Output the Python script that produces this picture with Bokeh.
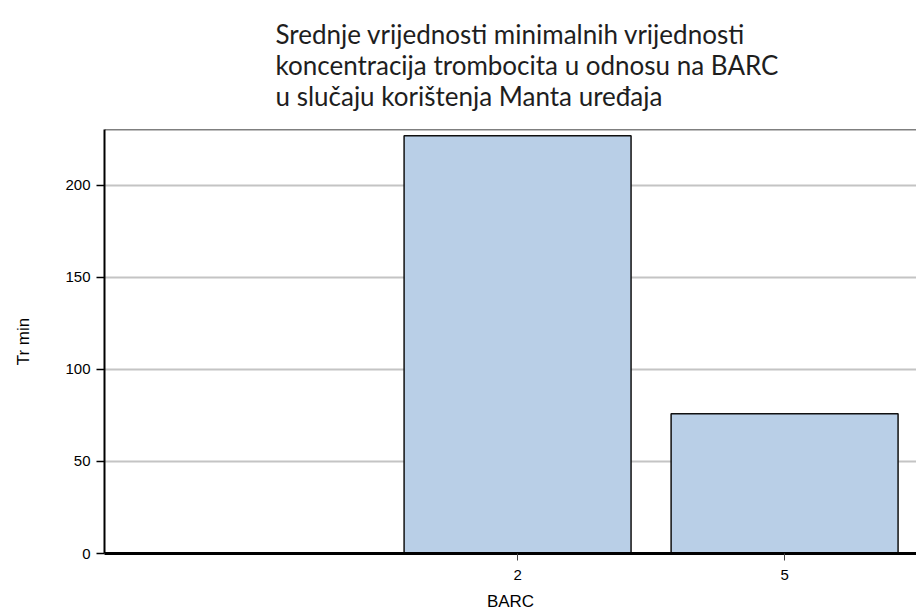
from bokeh.plotting import figure
from bokeh.models import Range1d, FixedTicker, Span, Title
from bokeh.embed import file_html
from bokeh.resources import INLINE

barc = ["2", "5"]
tr_min = [227, 76]
y_ticks = [0, 50, 100, 150, 200]
title_lines = [
    "Srednje vrijednosti minimalnih vrijednosti",
    "koncentracija trombocita u odnosu na BARC",
    "u slučaju korištenja Manta uređaja",
]

positions = [i + 1 for i in range(len(barc))]
y_top = 230.4

p = figure(width=916, height=613, output_backend="svg", toolbar_location=None,
           x_range=Range1d(-0.547, 2.494), y_range=Range1d(0, y_top),
           min_border_left=104, min_border_right=0, min_border_top=129,
           min_border_bottom=60)
p.outline_line_color = None
p.background_fill_color = "white"
p.border_fill_color = "white"

p.vbar(x=positions, top=tr_min, bottom=0, width=0.85,
       fill_color="#b9cfe7", line_color="#111111", line_width=1.5)

p.xgrid.grid_line_color = None
p.ygrid.grid_line_color = "#c4c4c4"
p.ygrid.grid_line_width = 2
p.ygrid.ticker = FixedTicker(ticks=y_ticks)

p.yaxis.ticker = FixedTicker(ticks=y_ticks)
p.yaxis.axis_line_width = 2
p.yaxis.axis_line_color = "black"
p.yaxis.major_tick_out = 8
p.yaxis.major_tick_in = 0
p.yaxis.major_tick_line_width = 1.5
p.yaxis.minor_tick_line_color = None
p.yaxis.major_label_text_font = "Liberation Sans"
p.yaxis.major_label_text_font_size = "15px"
p.yaxis.major_label_text_color = "black"
p.yaxis.major_label_standoff = 6
p.yaxis.axis_label = "Tr min"
p.yaxis.axis_label_text_font = "Liberation Sans"
p.yaxis.axis_label_text_font_size = "17px"
p.yaxis.axis_label_text_font_style = "normal"
p.yaxis.axis_label_text_color = "black"
p.yaxis.axis_label_standoff = 29

p.xaxis.ticker = FixedTicker(ticks=positions)
p.xaxis.major_label_overrides = {pos: lab for pos, lab in zip(positions, barc)}
p.xaxis.axis_line_width = 3
p.xaxis.axis_line_color = "black"
p.xaxis.major_tick_out = 7
p.xaxis.major_tick_in = 0
p.xaxis.major_tick_line_color = "#444444"
p.xaxis.minor_tick_line_color = None
p.xaxis.major_label_text_font = "Liberation Sans"
p.xaxis.major_label_text_font_size = "15px"
p.xaxis.major_label_text_color = "black"
p.xaxis.major_label_standoff = 9
p.xaxis.axis_label = "BARC"
p.xaxis.axis_label_text_font = "Liberation Sans"
p.xaxis.axis_label_text_font_size = "17px"
p.xaxis.axis_label_text_font_style = "normal"
p.xaxis.axis_label_text_color = "black"
p.xaxis.axis_label_standoff = 9

p.add_layout(Span(location=y_top, dimension="width", line_color="black", line_width=1.5))

p.add_layout(Title(text="\n".join(title_lines), align="left", offset=171,
                   text_font="Lato", text_font_size="26px", text_line_height=0.97,
                   text_font_style="normal", text_color="#1e1e1e",
                   vertical_align="top", standoff=31), "above")

open("out.html", "w").write(file_html(p, INLINE))
